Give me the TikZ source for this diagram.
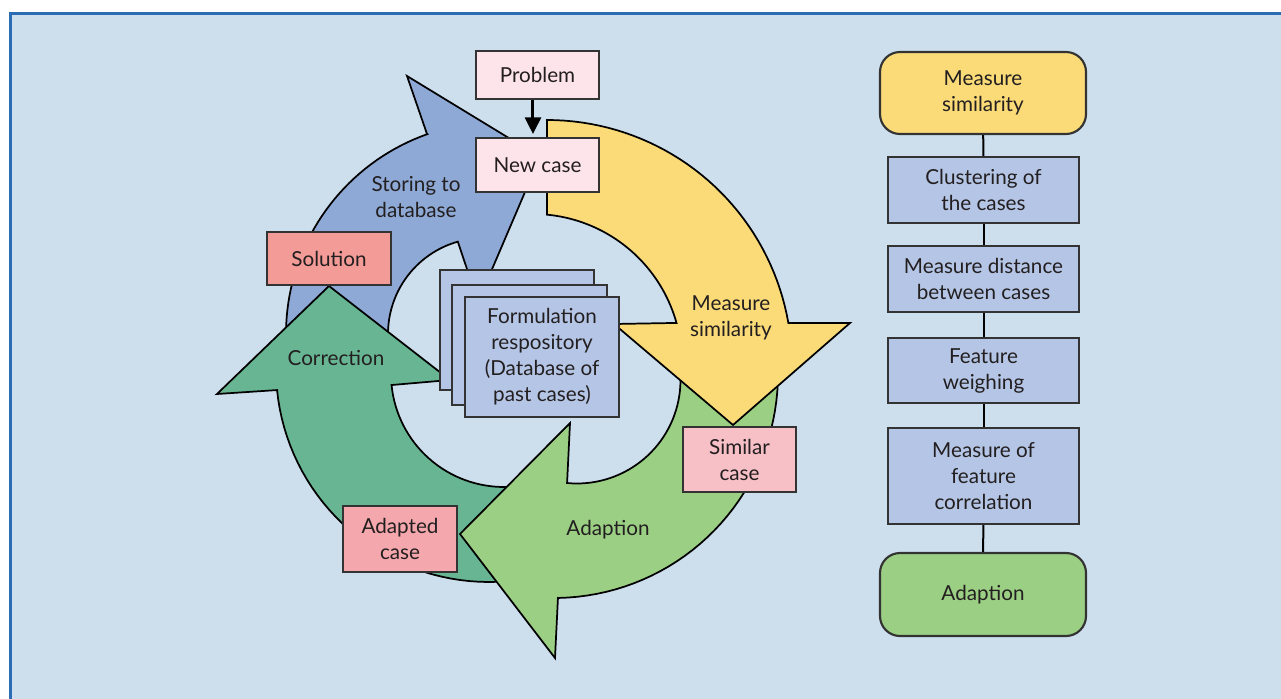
\documentclass[tikz,border=0pt]{standalone}
\usepackage{fontspec}
\setmainfont{Lato}
\usetikzlibrary{arrows.meta,calc}
\definecolor{panel}{HTML}{CDDFED}
\definecolor{panelline}{HTML}{2B6DB5}
\definecolor{blueA}{HTML}{8EA9D6}
\definecolor{greenD}{HTML}{67B593}
\definecolor{greenL}{HTML}{9BCF84}
\definecolor{yellowA}{HTML}{FADB78}
\definecolor{boxB}{HTML}{B4C5E5}
\definecolor{pinkL}{HTML}{FDE3EA}
\definecolor{salmon}{HTML}{F39B97}
\definecolor{pinkM}{HTML}{F7BFC6}
\definecolor{pinkA}{HTML}{F4A7AC}
\definecolor{edge}{HTML}{333333}
\definecolor{txt}{HTML}{231F20}
\begin{document}
\begin{tikzpicture}[x=0.75pt, y={(0pt,-0.75pt)}, font=\fontsize{15.5}{19.5}\selectfont,
 arr/.style={draw=black, line width=1.3pt, line join=miter},
 box/.style={draw=edge, line width=1.6pt, align=center, inner sep=0pt, text=txt},
 sz/.style 2 args={minimum width={#1*0.75pt}, minimum height={#2*0.75pt}},
 lab/.style={align=center, text=txt, inner sep=0pt},
 link/.style={draw=black, line width=1.5pt}]
\useasboundingbox (0,0) rectangle (1281,699);
\fill[white] (0,0) rectangle (1281,699);
\fill[panel] (10.5,13.8) rectangle (1300,720);
\draw[panelline, line width=2.25pt] (10.5,720) -- (10.5,13.8) -- (1300,13.8);

% Storing to database (blue)
\path[arr, fill=blueA] (427,134)
  -- plot[domain=109.5:185, samples=40] ({498+212*cos(\x)},{334-212*sin(\x)})
  -- plot[domain=185:105.8, samples=40] ({484+96*cos(\x)},{334-96*sin(\x)})
  -- (478,302) -- (540,157) -- (407,76) -- cycle;
% Correction (dark green)
\path[arr, fill=greenD] (217,394) -- (278,390)
  -- plot[domain=185.7:285, samples=40] ({489+213*cos(\x)},{369-213*sin(\x)})
  -- plot[domain=290:185.6, samples=40] ({504+113*cos(\x)},{374-113*sin(\x)})
  -- (450,380) -- (329,286) -- cycle;
% Adaption (light green)
\path[arr, fill=greenL] (558,597)
  -- plot[domain=-89:8, samples=40] ({554+224*cos(\x)},{374-224*sin(\x)})
  -- plot[domain=10:-95.5, samples=40] ({577+103.5*cos(\x)},{380-103.5*sin(\x)})
  -- (570,423) -- (460,534) -- (555,658) -- cycle;
% Measure similarity (yellow)
\path[arr, fill=yellowA] plot[domain=90:9.9, samples=40] ({547+245*cos(\x)},{365-245*sin(\x)})
  -- (850,323) -- (733,425) -- (614,324)
  -- plot[domain=15.6:84.6, samples=40] ({533+149*cos(\x)},{363-149*sin(\x)}) -- cycle;

\node[lab] (lstore) at (416,197) {Storing to\\database};
\node[lab] (lmeas) at (731,318) {Measure\\similarity};
\node[lab] (lcorr) at (336,358) {Correction};
\node[lab] (ladap) at (608,530) {Adaption};

\node[box, fill=pinkL, sz={123}{48}] (prob) at (537.5,75) {Problem};
\node[box, fill=pinkL, sz={123}{54}] (new) at (537.5,165) {New case};
\draw[black, line width=2.25pt, -{Triangle[width=12pt,length=12.5pt]}, shorten >=2.2pt]
  ([xshift=-3.4pt]prob.south) -- ([xshift=-3.4pt]new.north);
\node[box, fill=salmon, sz={124}{53}] (sol) at (329,258.5) {Solution};
\node[box, fill=boxB, sz={154}{120}] (f1) at (517,330) {};
\node[box, fill=boxB, sz={155}{120}] (f2) at (529.5,345) {};
\node[box, fill=boxB, sz={154}{120}] (f3) at (542,357) {Formulation\\respository\\(Database of\\past cases)};
\node[box, fill=pinkM, sz={113}{65}] (sim) at (739.5,459.5) {Similar\\case};
\node[box, fill=pinkA, sz={114}{66}] (adc) at (400,539) {Adapted\\case};

% right column
\node[box, fill=yellowA, rounded corners=15pt, sz={206}{82}] (r1) at (983,93) {\raisebox{-2.2pt}{\begin{tabular}{@{}c@{}}Measure\\similarity\end{tabular}}};
\node[box, fill=boxB, sz={191}{66}] (r2) at (983.5,190) {Clustering of\\the cases};
\node[box, fill=boxB, sz={191}{66}] (r3) at (983.5,279) {Measure distance\\between cases};
\node[box, fill=boxB, sz={191}{65}] (r4) at (983.5,370.5) {Feature\\weighing};
\node[box, fill=boxB, sz={191}{96}] (r5) at (983.5,476) {Measure of\\feature\\correlation};
\node[box, fill=greenL, rounded corners=15pt, sz={206}{83}] (r6) at (983,594.5) {Adaption};
\draw[link] (r1) -- (r2);
\draw[link] (r2) -- (r3);
\draw[link] (r3) -- (r4);
\draw[link] (r4) -- (r5);
\draw[link] (r5) -- (r6);
\end{tikzpicture}
\end{document}
